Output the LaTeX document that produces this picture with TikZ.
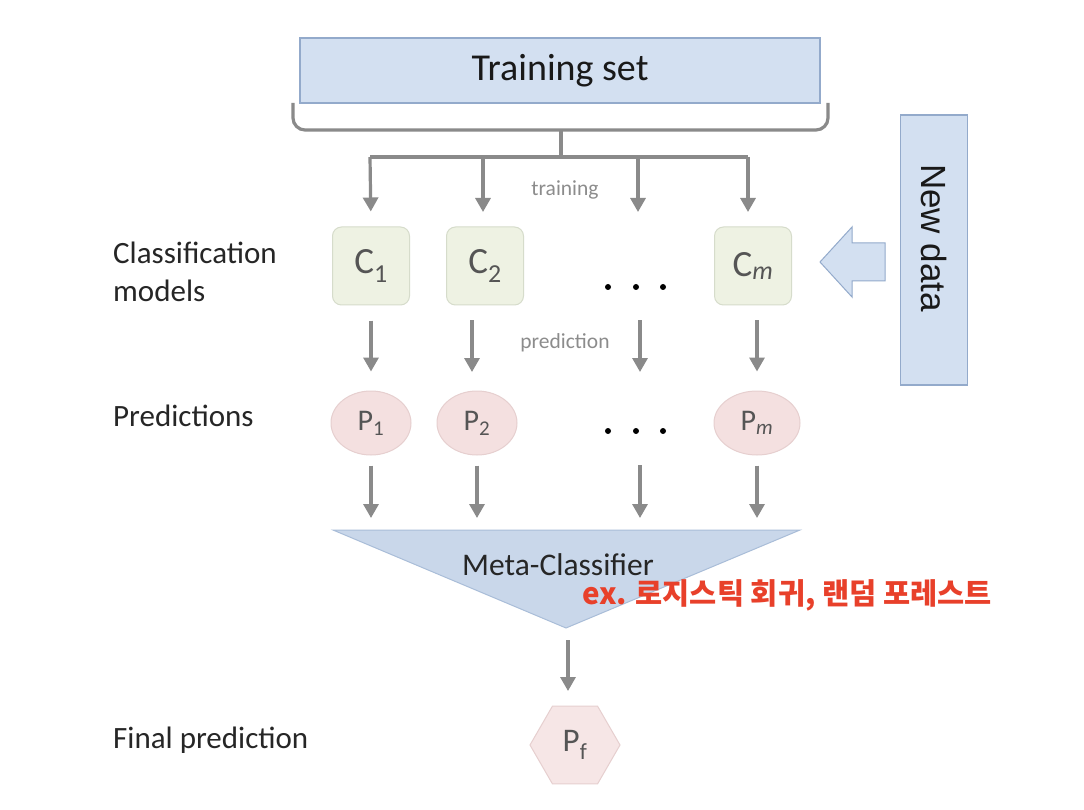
\documentclass[tikz,border=0pt]{standalone}
\usepackage{fontspec}
\setmainfont{Carlito}
\newfontfamily\arialf{Liberation Sans}
\newfontfamily\krf{Noto Sans CJK KR}
\usetikzlibrary{arrows.meta,shapes.geometric}
\definecolor{arrgray}{HTML}{8A8A8A}
\definecolor{bfill}{HTML}{D3E0F1}
\definecolor{bborder}{HTML}{93AACB}
\definecolor{cfill}{HTML}{EEF2E3}
\definecolor{cborder}{HTML}{D6DCCB}
\definecolor{pfill}{HTML}{F4E0E0}
\definecolor{pborder}{HTML}{E6CFCF}
\definecolor{hfill}{HTML}{F6E6E6}
\definecolor{mfill}{HTML}{C9D7EA}
\definecolor{mborder}{HTML}{A9BDD8}
\definecolor{txtgray}{HTML}{555555}
\definecolor{lightgray}{HTML}{8C8C8C}
\definecolor{redtxt}{HTML}{E8402A}
\begin{document}
\begin{tikzpicture}[x=1pt,y=-1pt,
  arr/.style={draw=arrgray,line width=3.2pt,-{Triangle[length=14pt,width=15pt]}},
  bracestyle/.style={draw=arrgray,line width=3.2pt},
  cbox/.style={draw=cborder,fill=cfill,rounded corners=9pt,minimum width=77pt,minimum height=78pt,line width=1pt,text=txtgray,font=\fontsize{37}{37}\selectfont,inner sep=0pt},
  pell/.style={ellipse,draw=pborder,fill=pfill,minimum width=80pt,minimum height=64pt,line width=1pt,text=txtgray,font=\fontsize{30}{30}\selectfont,inner sep=0pt},
  lbl/.style={font=\fontsize{31}{38}\selectfont,anchor=west,align=left,text=black!85,inner sep=0pt},
  smalltxt/.style={text=lightgray,font=\fontsize{21.5}{21.5}\selectfont},
  dot/.style={fill=black,circle,inner sep=0pt,minimum size=6pt}]
\useasboundingbox (0,0) rectangle (1084,810);
\fill[white] (0,0) rectangle (1084,810);

% Training set
\node[draw=bborder,fill=bfill,minimum width=520pt,minimum height=65pt,line width=1.2pt,
      font=\fontsize{38}{38}\selectfont,text=black!90,inner sep=0pt] (train) at (560,70.5) {Training set};

% brace
\coordinate (stem) at (561,130);
\coordinate (split) at (561,157);
\draw[bracestyle,rounded corners=12pt] (293,103) |- (stem) -| (828,103);
\draw[bracestyle] (stem) -- (split);
\coordinate (splitL) at (370,157);
\coordinate (splitR) at (748,157);
\draw[bracestyle] (splitL) -- (splitR);

% labels
\node[lbl] (lclass) at (113,272) {Classification\\models};
\node[lbl] (lpred) at (113,416) {Predictions};
\node[lbl] (lfinal) at (113,740) {Final prediction};

% classifiers
\node[cbox] (C1) at (371,266) {C$_{\mathrm{1}}$};
\node[cbox] (C2) at (485,266) {C$_{\mathrm{2}}$};
\node[cbox] (Cm) at (753,266) {C$_{\mathit{m}}$};
\coordinate (K3top) at (638,227);
\coordinate (K3bot) at (640,305);
\node[dot] (da1) at (608,287) {};
\node[dot] (da2) at (636,287) {};
\node[dot] (da3) at (663,287) {};

% predictions
\node[pell] (P1) at (371,423) {P$_{\mathrm{1}}$};
\node[pell] (P2) at (477,423) {P$_{\mathrm{2}}$};
\node[pell,minimum width=86pt] (Pm) at (757,423) {P$_{\mathit{m}}$};
\coordinate (K3p) at (640,391);
\node[dot] (db1) at (608,431) {};
\node[dot] (db2) at (636,431) {};
\node[dot] (db3) at (663,431) {};

% text labels
\node[smalltxt] (ttrain) at (565,190) {training};
\node[smalltxt] (tpred) at (565,343) {prediction};

% arrows training
\draw[arr,shorten >=15pt] (splitL) -- (C1.north);
\draw[arr,shorten >=15pt] (483,157) -- (483,227);
\draw[arr,shorten >=15pt] (638,157) -- (K3top);
\draw[arr,shorten >=15pt] (splitR) -- (748,227);

% arrows prediction
\draw[arr,shorten <=15pt,shorten >=19pt] (C1.south) -- (P1.north);
\draw[arr,shorten <=15pt,shorten >=19pt] (472,305) -- (472,391);
\draw[arr,shorten <=15pt,shorten >=19pt] (K3bot) -- (K3p);
\draw[arr,shorten <=15pt,shorten >=19pt] (757,305) -- (Pm.north);

% meta classifier
\coordinate (mL) at (333,530);
\coordinate (mR) at (800,530);
\coordinate (mB) at (566,628);
\filldraw[fill=mfill,draw=mborder,line width=1pt] (mL) -- (mR) -- (mB) -- cycle;
\node[font=\fontsize{31.5}{31.5}\selectfont,text=black!85] (meta) at (558,565) {Meta-Classifier};

\draw[arr,shorten <=10pt,shorten >=12pt] (P1.south) -- (P1.south |- mL);
\draw[arr,shorten <=10pt,shorten >=12pt] (P2.south) -- (P2.south |- mL);
\draw[arr,shorten >=12pt] (640,465) -- (640,530);
\draw[arr,shorten <=10pt,shorten >=12pt] (Pm.south) -- (Pm.south |- mL);

% final
\node[regular polygon,regular polygon sides=6,minimum size=90pt,draw=pborder,fill=hfill,
      line width=1pt,text=txtgray,font=\fontsize{33}{33}\selectfont,inner sep=0pt] (Pf) at (575,745) {P$_{\mathrm{f}}$};
\draw[arr,shorten <=12pt,shorten >=15pt] (568,628) -- (568,706);

% red note
\node[text=redtxt,font=\krf\bfseries\fontsize{29.5}{29.5}\selectfont,anchor=west,inner sep=0pt] (note) at (582,595) {ex. 로지스틱 회귀, 랜덤 포레스트};

% new data
\node[draw=bborder,fill=bfill,line width=1.2pt,minimum width=67pt,minimum height=270pt,inner sep=0pt] (nd) at (934,250) {};
\node[rotate=-90,font=\arialf\fontsize{35}{35}\selectfont,text=black!90,inner sep=0pt] (ndtext) at (934,238) {New data};
\filldraw[fill=bfill,draw=bborder,line width=1pt] (820,262) -- (852,227) -- (852,243) -- (885,243)
   -- (885,281) -- (852,281) -- (852,297) -- cycle;
\end{tikzpicture}
\end{document}
